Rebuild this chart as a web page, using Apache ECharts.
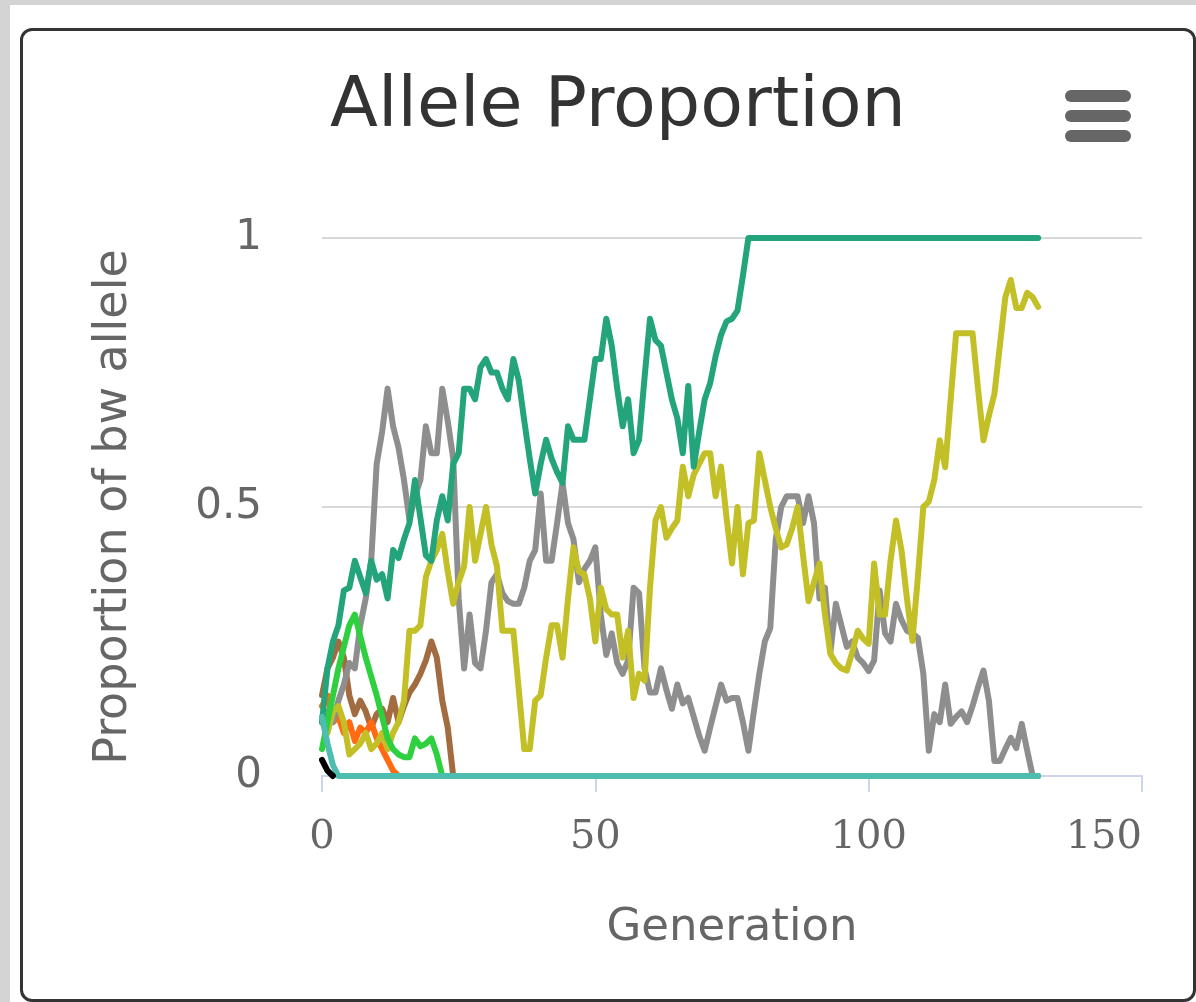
<!DOCTYPE html>
<html><head><meta charset="utf-8">
<script src="https://cdn.jsdelivr.net/npm/echarts@6/dist/echarts.min.js"></script>
<style>
html,body{margin:0;padding:0;width:1196px;height:1002px;overflow:hidden;background:#d4d4d4;}
#panel{position:absolute;left:10px;top:5px;width:1200px;height:1010px;background:#fff;}
#card{position:absolute;left:20px;top:28px;width:1176px;height:974px;border:3px solid #333;border-radius:12px;box-sizing:border-box;background:#fff;}
#chart{position:absolute;left:0;top:0;width:1196px;height:1002px;}
</style></head>
<body>
<div id="panel"></div>
<div id="card"></div>
<div id="chart"></div>
<script>
// Values indexed by generation (0, 1, 2, ...)
const tealValues = [
0.10,0.20,0.25,0.28,0.345,0.35,0.40,0.37,0.34,0.40,
0.365,0.375,0.33,0.42,0.405,0.44,0.47,0.55,0.48,0.41,
0.40,0.475,0.52,0.475,0.58,0.60,0.72,0.72,0.70,0.76,
0.775,0.75,0.75,0.72,0.70,0.775,0.735,0.66,0.59,0.525,
0.58,0.625,0.59,0.565,0.545,0.65,0.625,0.625,0.625,0.70,
0.775,0.775,0.85,0.80,0.72,0.65,0.70,0.60,0.625,0.74,
0.85,0.81,0.80,0.75,0.70,0.665,0.60,0.725,0.575,0.64,
0.70,0.73,0.78,0.82,0.845,0.85,0.865,0.93,1,1,
1,1,1,1,1,1,1,1,1,1,
1,1,1,1,1,1,1,1,1,1,
1,1,1,1,1,1,1,1,1,1,
1,1,1,1,1,1,1,1,1,1,
1,1,1,1,1,1,1,1,1,1,
1,1
];
const grayValues = [
0.10,0.12,0.10,0.14,0.17,0.21,0.20,0.28,0.33,0.40,
0.58,0.64,0.72,0.65,0.61,0.55,0.475,0.52,0.55,0.65,
0.60,0.60,0.72,0.66,0.59,0.33,0.20,0.30,0.21,0.20,
0.27,0.36,0.375,0.34,0.325,0.32,0.32,0.35,0.40,0.42,
0.525,0.40,0.40,0.47,0.545,0.47,0.44,0.36,0.385,0.40,
0.425,0.30,0.225,0.265,0.21,0.19,0.215,0.35,0.34,0.20,
0.155,0.155,0.20,0.16,0.125,0.17,0.135,0.145,0.11,0.075,
0.047,0.09,0.13,0.17,0.14,0.145,0.145,0.10,0.047,0.12,
0.19,0.25,0.275,0.44,0.50,0.52,0.52,0.52,0.47,0.52,
0.47,0.33,0.35,0.23,0.32,0.28,0.24,0.25,0.22,0.21,
0.195,0.215,0.345,0.265,0.25,0.32,0.29,0.27,0.265,0.257,
0.19,0.047,0.115,0.10,0.17,0.097,0.11,0.12,0.10,0.13,
0.165,0.196,0.14,0.028,0.028,0.05,0.071,0.052,0.097,0.047,
0,0
];
const yellowValues = [
0.10,0.08,0.12,0.13,0.10,0.04,0.05,0.06,0.08,0.05,
0.06,0.08,0.05,0.08,0.10,0.14,0.27,0.27,0.28,0.37,
0.40,0.42,0.45,0.38,0.32,0.36,0.39,0.50,0.40,0.45,
0.50,0.43,0.39,0.27,0.27,0.27,0.16,0.05,0.05,0.14,
0.15,0.22,0.28,0.28,0.22,0.33,0.425,0.38,0.375,0.33,
0.25,0.35,0.31,0.30,0.30,0.22,0.27,0.145,0.19,0.177,
0.35,0.475,0.50,0.443,0.46,0.475,0.575,0.52,0.56,0.58,
0.60,0.60,0.52,0.575,0.48,0.395,0.50,0.375,0.47,0.475,
0.60,0.55,0.50,0.46,0.425,0.43,0.46,0.50,0.41,0.325,
0.36,0.395,0.30,0.227,0.21,0.20,0.196,0.23,0.27,0.255,
0.246,0.395,0.30,0.30,0.40,0.475,0.42,0.33,0.251,0.37,
0.50,0.51,0.55,0.624,0.574,0.70,0.823,0.823,0.823,0.823,
0.72,0.624,0.67,0.71,0.80,0.89,0.922,0.87,0.87,0.898,
0.89,0.872
];
const brownValues = [0.15,0.20,0.22,0.25,0.22,0.15,0.115,0.14,0.12,0.09,0.115,0.125,0.10,0.145,0.10,0.13,0.155,0.17,0.19,0.215,0.25,0.22,0.14,0.09,0];
const orangeValues = [0.13,0.15,0.10,0.11,0.08,0.10,0.065,0.09,0.08,0.10,0.07,0.05,0.03,0.01,0];
const greenValues = [0.05,0.10,0.15,0.20,0.24,0.28,0.30,0.26,0.22,0.185,0.15,0.11,0.07,0.05,0.04,0.035,0.035,0.07,0.055,0.06,0.07,0.04,0];
const cyanValues = [
0.11,0.06,0.02,0,0,0,0,0,0,0,
0,0,0,0,0,0,0,0,0,0,
0,0,0,0,0,0,0,0,0,0,
0,0,0,0,0,0,0,0,0,0,
0,0,0,0,0,0,0,0,0,0,
0,0,0,0,0,0,0,0,0,0,
0,0,0,0,0,0,0,0,0,0,
0,0,0,0,0,0,0,0,0,0,
0,0,0,0,0,0,0,0,0,0,
0,0,0,0,0,0,0,0,0,0,
0,0,0,0,0,0,0,0,0,0,
0,0,0,0,0,0,0,0,0,0,
0,0,0,0,0,0,0,0,0,0,
0,0
];
const blackValues = [0.03,0.01,0];

const xTicks = [0, 50, 100, 150];
const yTicks = [0, 0.5, 1];

const seriesDefs = [
  {name:'brown', values:brownValues, color:'#a26b40'},
  {name:'orange', values:orangeValues, color:'#ff6a13'},
  {name:'gray', values:grayValues, color:'#8e8e8e'},
  {name:'yellow', values:yellowValues, color:'#c3bf27'},
  {name:'teal', values:tealValues, color:'#23a47b'},
  {name:'green', values:greenValues, color:'#2fd03f'},
  {name:'cyan', values:cyanValues, color:'#4cbdae'},
  {name:'black', values:blackValues, color:'#000000'}
];

const chart = echarts.init(document.getElementById('chart'));
const option = {
  animation:false,
  backgroundColor:'transparent',
  title:{
    text:'Allele Proportion', left:613, top:68, textAlign:'center',
    textStyle:{fontFamily:'DejaVu Sans', fontSize:70, fontWeight:'normal', color:'#333333'}
  },
  grid:{left:322, right:54, top:238, bottom:226, containLabel:false},
  xAxis:{
    type:'value', min:xTicks[0], max:xTicks[xTicks.length-1], interval:xTicks[1]-xTicks[0],
    name:'Generation', nameLocation:'middle', nameGap:130,
    nameTextStyle:{fontFamily:'DejaVu Sans', fontSize:45, color:'#666666'},
    axisLine:{show:true, lineStyle:{color:'#ccd6eb', width:2}},
    axisTick:{show:true, length:16, lineStyle:{color:'#ccd6eb', width:2}},
    axisLabel:{fontFamily:'DejaVu Serif', fontSize:40, color:'#666666', margin:42, alignMaxLabel:'right'},
    splitLine:{show:false}
  },
  yAxis:{
    type:'value', min:yTicks[0], max:yTicks[yTicks.length-1], interval:yTicks[1]-yTicks[0],
    name:'Proportion of bw allele', nameLocation:'middle', nameGap:185, nameRotate:90,
    nameTextStyle:{fontFamily:'DejaVu Sans', fontSize:46, color:'#666666'},
    axisLine:{show:false}, axisTick:{show:false},
    axisLabel:{fontFamily:'DejaVu Sans', fontSize:42, color:'#666666', margin:60},
    splitLine:{show:true, lineStyle:{color:'#d8d8d8', width:2}}
  },
  graphic:[
    {type:'rect', shape:{x:1065, y:90, width:66, height:12, r:6}, style:{fill:'#666666'}},
    {type:'rect', shape:{x:1065, y:110, width:66, height:12, r:6}, style:{fill:'#666666'}},
    {type:'rect', shape:{x:1065, y:130, width:66, height:12, r:6}, style:{fill:'#666666'}}
  ],
  series: seriesDefs.map(d => ({
    name:d.name, type:'line', showSymbol:false, symbol:'none', clip:false,
    data:d.values.map((v,i)=>[i,v]),
    lineStyle:{color:d.color, width:6, cap:'round', join:'round'},
    itemStyle:{color:d.color}
  }))
};
chart.setOption(option);
</script>
</body></html>
